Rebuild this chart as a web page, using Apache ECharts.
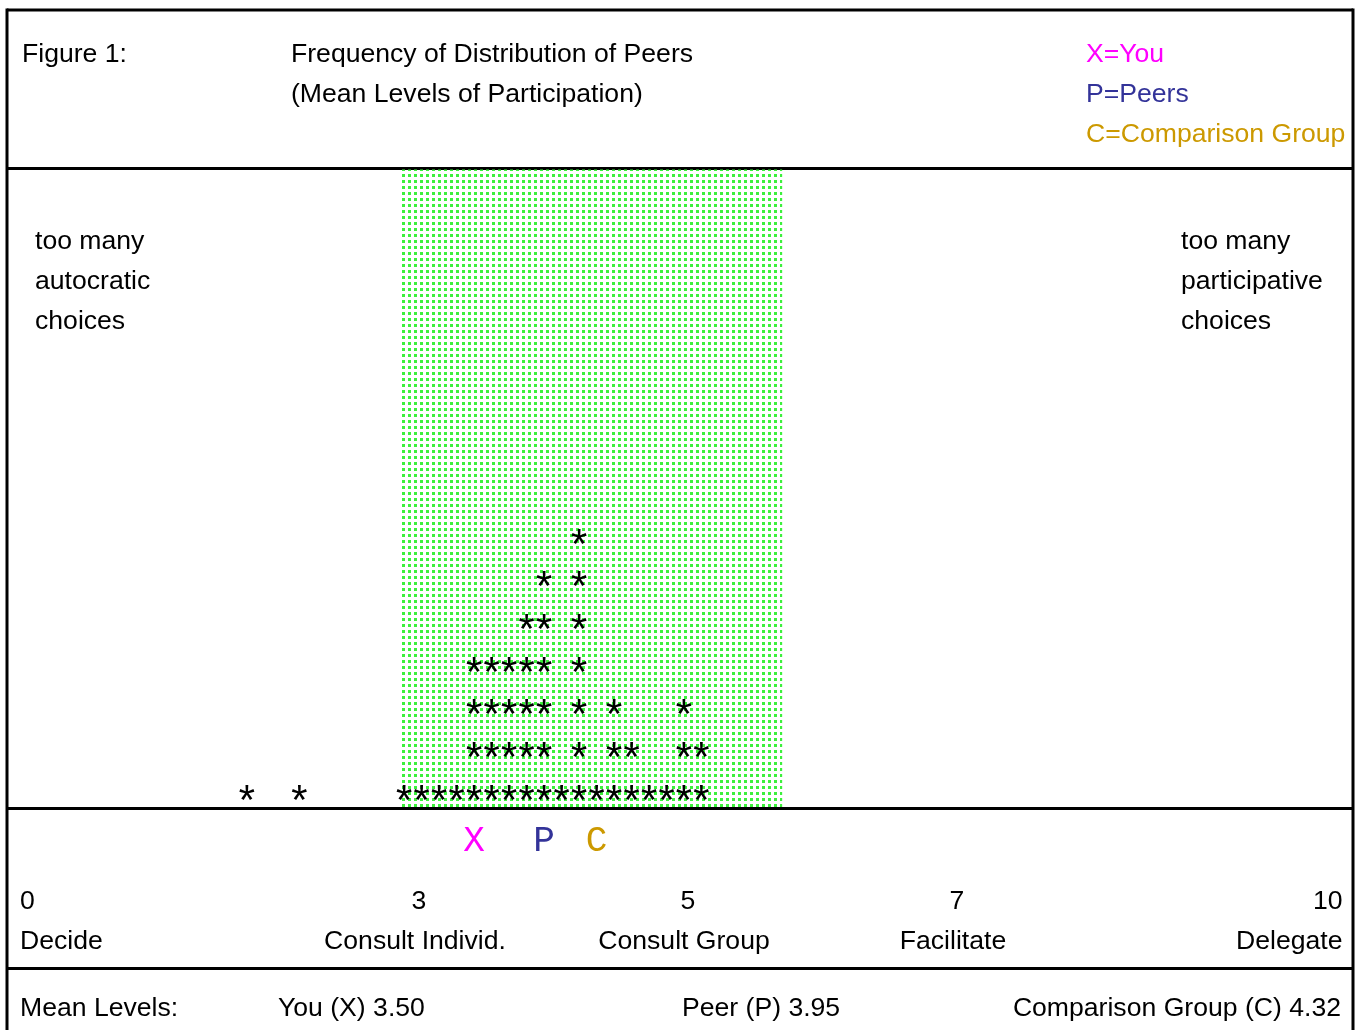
<!DOCTYPE html>
<html>
<head>
  <meta charset="utf-8" />
  <title>Frequency of Distribution of Peers</title>
  <script src="https://cdn.jsdelivr.net/npm/echarts@6/dist/echarts.min.js"></script>
</head>
<body style="margin: 0; background: #fff">
  <div id="container" style="width: 1361px; height: 1030px"></div>
  <script>
    // peer distribution: column position on the 0-10 scale and how many peers sit there
    var peerValues = [1.72, 2.11, 2.89, 3.02, 3.15, 3.28, 3.41, 3.54, 3.67, 3.80,
      3.93, 4.06, 4.19, 4.32, 4.45, 4.58, 4.71, 4.84, 4.97, 5.10];
    var peerCounts = [1, 1, 1, 1, 1, 1, 4, 4, 4, 5, 6, 1, 7, 1, 3, 2, 1, 1, 3, 2];

    // X / P / C markers under the distribution
    var markerNames = ["X", "P", "C"];
    var markerValues = [3.41, 3.93, 4.32];
    var markerColors = ["#ff00ff", "#333399", "#cc9900"];
    var legendTexts = ["X=You", "P=Peers", "C=Comparison Group"];

    // mean levels shown in the footer
    var meanLabels = ["You (X)", "Peer (P)", "Comparison Group (C)"];
    var meanValues = [3.50, 3.95, 4.32];

    // scale ticks
    var tickValues = [0, 3, 5, 7, 10];
    var tickNames = ["Decide", "Consult Individ.", "Consult Group", "Facilitate", "Delegate"];

    // shaded (dotted green) range
    var bandRange = [2.86, 5.70];

    var SANS = '"Liberation Sans", Arial, sans-serif';
    var MONO = '"Liberation Mono", "Courier New", monospace';
    var FS = 26.6;

    // dotted pattern for the band
    var pat = document.createElement("canvas");
    pat.width = 6;
    pat.height = 6;
    var pctx = pat.getContext("2d");
    pctx.fillStyle = "#3cf03c";
    pctx.fillRect(0, 0, 3, 3);

    var stars = [];
    peerValues.forEach(function (v, i) {
      for (var k = 1; k <= peerCounts[i]; k++) stars.push([v, k]);
    });

    var markerRow = -0.13;
    var tickRow = -2;
    var hidden = { color: "rgba(0,0,0,0)", opacity: 1 };

    var markers = markerValues.map(function (v, i) {
      return { value: [v, markerRow], label: { color: markerColors[i] } };
    });

    var ticks = tickValues.map(function (v, i) {
      var last = tickValues.length - 1;
      var al = i === 0 ? "left" : i === last ? "right" : "center";
      var off = i === 0 ? 4.5 : i === last ? -18 : 0;
      return { value: [v, tickRow], label: { align: al, offset: [off, 2] } };
    });

    function txt(x, y, s, color, align) {
      return {
        type: "text", x: x, y: y, silent: true,
        style: { text: s, fill: color || "#000", font: FS + "px " + SANS, align: align || "left", verticalAlign: "middle" }
      };
    }
    function hline(y) {
      return { type: "line", silent: true, shape: { x1: 7, y1: y, x2: 1353, y2: y }, style: { stroke: "#000", lineWidth: 3 } };
    }

    var graphics = [
      { type: "line", silent: true, shape: { x1: 7, y1: 8.5, x2: 7, y2: 1040 }, style: { stroke: "#000", lineWidth: 3 } },
      { type: "line", silent: true, shape: { x1: 1353, y1: 8.5, x2: 1353, y2: 1040 }, style: { stroke: "#000", lineWidth: 3 } },
      hline(10), hline(168.5), hline(808.5), hline(968.5),
      txt(22, 55, "Figure 1:"),
      txt(291, 55, "Frequency of Distribution of Peers"),
      txt(291, 95, "(Mean Levels of Participation)"),
      txt(35, 242, "too many"), txt(35, 282, "autocratic"), txt(35, 322, "choices"),
      txt(1181, 242, "too many"), txt(1181, 282, "participative"), txt(1181, 322, "choices"),
      txt(20, 1009, "Mean Levels:"),
      txt(278, 1009, meanLabels[0] + " " + meanValues[0].toFixed(2)),
      txt(682, 1009, meanLabels[1] + " " + meanValues[1].toFixed(2)),
      txt(1341, 1009, meanLabels[2] + " " + meanValues[2].toFixed(2), "#000", "right")
    ];
    legendTexts.forEach(function (s, i) {
      graphics.push(txt(1086, 55 + 40 * i, s, markerColors[i]));
    });

    var myChart = echarts.init(document.getElementById("container"), null, { renderer: "canvas" });
    var option = {
      animation: false,
      backgroundColor: "#fff",
      grid: { left: 15.5, right: 0.5, top: 169.5, bottom: 223 },
      xAxis: { type: "value", min: 0, max: 10, show: false },
      yAxis: { type: "value", min: 0.6417, max: 15.5714, show: false },
      graphic: graphics,
      series: [
        {
          type: "scatter", name: "band", data: [], silent: true,
          markArea: {
            silent: true,
            itemStyle: { color: { image: pat, repeat: "repeat" } },
            data: [[{ xAxis: bandRange[0] }, { xAxis: bandRange[1] }]]
          }
        },
        {
          type: "scatter", name: "peers", data: stars, silent: true, clip: false,
          symbolSize: 1, itemStyle: hidden,
          label: {
            show: true, position: "inside", formatter: "*", color: "#000",
            fontFamily: MONO, fontSize: 42, offset: [0, 13]
          }
        },
        {
          type: "scatter", name: "markers", data: markers, silent: true, clip: false,
          symbolSize: 1, itemStyle: hidden,
          label: {
            show: true, position: "inside", fontFamily: MONO, fontSize: 36, offset: [0, 2],
            formatter: function (p) { return markerNames[p.dataIndex]; }
          }
        },
        {
          type: "scatter", name: "ticks", data: ticks, silent: true, clip: false,
          symbolSize: 1, itemStyle: hidden,
          label: {
            show: true, position: "inside", color: "#000",
            formatter: function (p) {
              var i = p.dataIndex;
              var mid = i > 0 && i < tickValues.length - 1;
              return "{n|" + tickValues[i] + "}\n{" + (mid ? "tc" : "t") + "|" + tickNames[i] + "}";
            },
            rich: {
              n: { fontFamily: SANS, fontSize: FS, lineHeight: 40, color: "#000" },
              t: { fontFamily: SANS, fontSize: FS, lineHeight: 40, color: "#000" },
              tc: { fontFamily: SANS, fontSize: FS, lineHeight: 40, color: "#000", padding: [0, 8, 0, 0] }
            }
          }
        }
      ]
    };
    myChart.setOption(option);
  </script>
</body>
</html>
